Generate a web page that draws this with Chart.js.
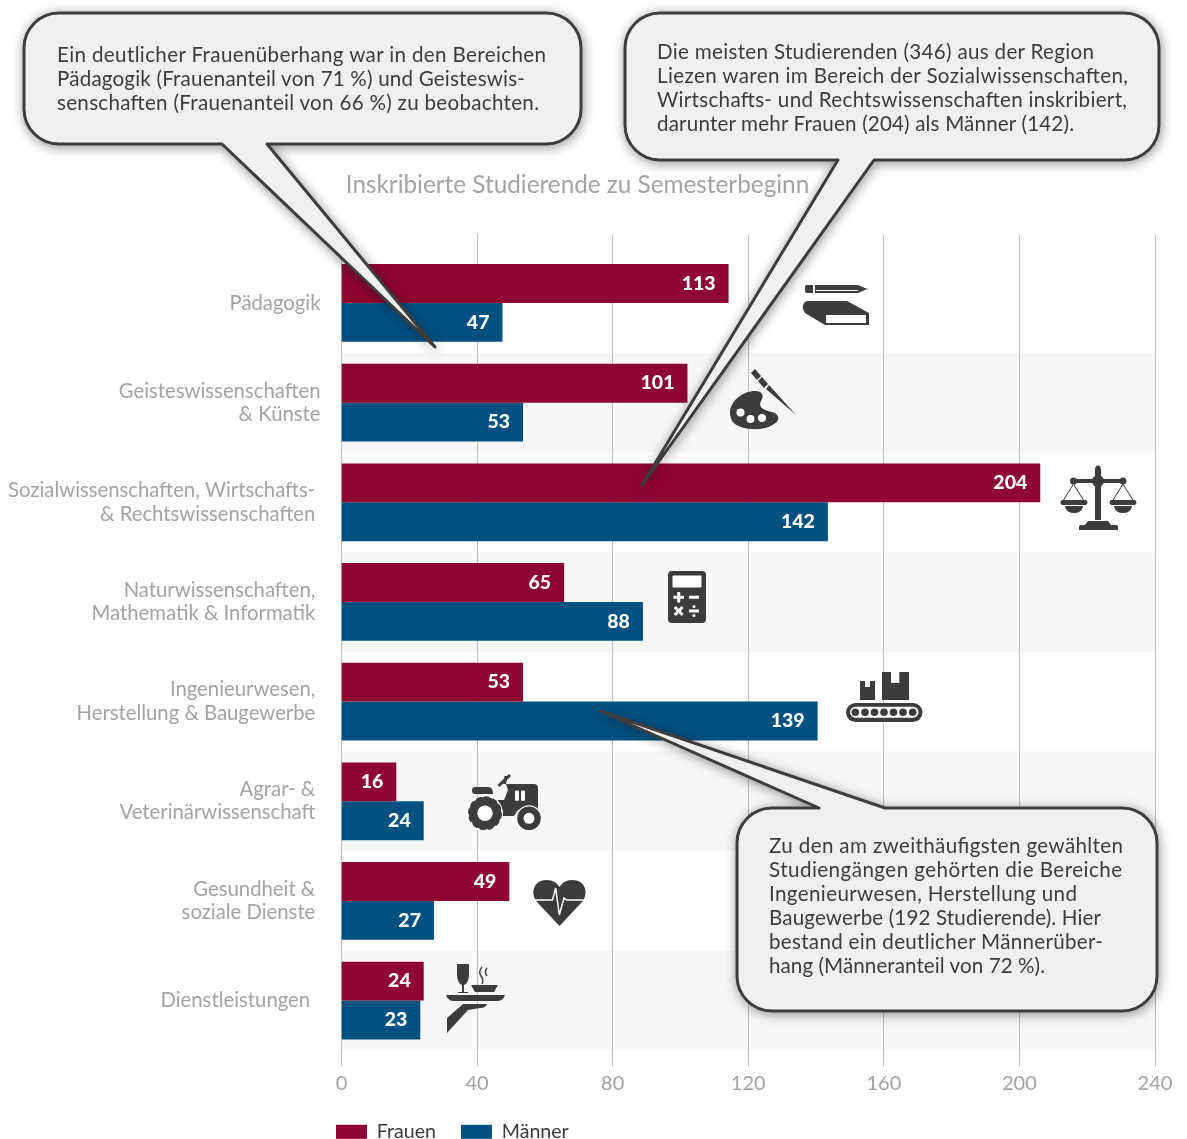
<!DOCTYPE html>
<html>
<head>
<meta charset="utf-8">
<script src="https://cdn.jsdelivr.net/npm/chart.js@4"></script>
<style>
html,body{margin:0;padding:0;background:#fff;overflow:hidden}
#wrap{position:relative;width:1187px;height:1139px;overflow:hidden}
#myChart{position:absolute;left:0;top:0}
#over{position:absolute;left:0;top:0}
.bubble{fill:#f0f0f0;stroke:#3c3c3b;stroke-width:3;stroke-linejoin:round;filter:url(#sh)}
.note{font:20.6px Lato;fill:#3c3c3b}
.ic{fill:#3c3c3b}
.wh{fill:#fff}
.wl{fill:none;stroke:#fff}
.dl{fill:none;stroke:#3c3c3b}
</style>
</head>
<body>
<div id="wrap">
<canvas id="myChart" width="1187" height="1151"></canvas>
<svg id="over" width="1187" height="1139">
<defs><filter id="sh" x="-20%" y="-20%" width="140%" height="140%"><feDropShadow dx="1" dy="2" stdDeviation="6" flood-color="#000" flood-opacity="0.42"/></filter></defs>

<!-- book and pencil -->
<g>
<path class="ic" d="M807 285H813V293H807Q805 293 805 291V287Q805 285 807 285ZM815 285H858L866 288.500L869 289L866 289.500L858 293H815Z"/>
<path class="wl" d="M816 290.500H858" stroke-width="1"/>
<path class="ic" d="M807 301H847L869 313V325H825L805 313Q802 308 803 305Q804 302 807 301Z"/>
<rect class="wh" x="826" y="315" width="40" height="8"/>
</g>
<!-- palette and brush -->
<g>
<path class="ic" d="M730 413C730 400 744 391 755 391C763 391 764 396 761 401C758 407 763 410 772 412C779 414 781 420 774 424C764 431 750 430 741 427C734 425 730 420 730 413Z"/>
<circle class="wh" cx="740.500" cy="412.500" r="4"/><circle class="wh" cx="750.500" cy="419" r="4"/><circle class="wh" cx="762" cy="418" r="4"/>
<path class="ic" d="M755 369L751 373L757 380L761 376ZM762 377L758 381L764 388L768 384ZM769 385L766 389L796 415Z"/>
</g>
<!-- scales -->
<g>
<path class="ic" d="M1095 470Q1095 465.500 1098 465.500Q1101 465.500 1101 470V520H1095ZM1086 479H1110V483H1086Z"/>
<circle class="ic" cx="1098" cy="481" r="6"/><circle class="ic" cx="1073.500" cy="481" r="3.500"/><circle class="ic" cx="1123" cy="481" r="3.500"/>
<path class="ic" d="M1076 479H1090V483H1076Z"/>
<path class="ic" d="M1106 479H1120V483H1106Z"/>
<path class="dl" d="M1073.500 484L1063 501M1073.500 484L1084 501M1123 484L1112.500 501M1123 484L1133.500 501" stroke-width="1"/>
<path class="ic" d="M1062 500H1086Q1089 502.500 1086 505H1062Q1059 502.500 1062 500ZM1065 506H1083Q1082 513 1074 513Q1066 513 1065 506Z"/>
<path class="ic" d="M1111 500H1135Q1138 502.500 1135 505H1111Q1108 502.500 1111 500ZM1114 506H1132Q1131 513 1123 513Q1115 513 1114 506Z"/>
<path class="ic" d="M1088 521H1108L1111 525H1116Q1118 525 1118 527V530H1079V527Q1079 525 1081 525H1085Z"/>
</g>
<!-- calculator -->
<g>
<rect class="ic" x="668" y="571" width="38" height="52" rx="4"/>
<rect class="wh" x="672.500" y="575.500" width="29" height="12" rx="1"/>
<path class="wl" d="M678.700 592V602.500M673.500 597.300H684M689 597.300H699M674.800 607L682.600 615M682.600 607L674.800 615M689 611H699" stroke-width="3"/>
<circle class="wh" cx="694" cy="606.500" r="1.500"/><circle class="wh" cx="694" cy="615.500" r="1.500"/>
</g>
<!-- conveyor -->
<g>
<rect class="ic" x="846" y="703" width="76.500" height="19" rx="9.500"/>
<rect class="wh" x="850" y="706.700" width="68.500" height="11" rx="5.500"/>
<g class="ic"><circle cx="855.300" cy="712.200" r="3.800"/><circle cx="865" cy="712.200" r="3.800"/><circle cx="874.500" cy="712.200" r="3.800"/><circle cx="884" cy="712.200" r="3.800"/><circle cx="893.500" cy="712.200" r="3.800"/><circle cx="903" cy="712.200" r="3.800"/><circle cx="912.700" cy="712.200" r="3.800"/></g>
<path class="ic" d="M860 681H865V687H870V681H875V700H860ZM882 672H891V683H899.300V672H909V700H882Z"/>
</g>
<!-- tractor -->
<g>
<path class="ic" d="M506 784H534Q538 784 538 788V810H518L514 816H497L494 800H504L508 790Z"/>
<path class="ic" d="M475 787H488Q493 787 493 794H475Q472 794 472 790.500Q472 787 475 787Z"/>
<path class="dl" d="M498.500 786L510 775" stroke-width="3"/><path class="dl" d="M506 776L504.500 784" stroke-width="3"/>
<rect class="wh" x="515" y="790.700" width="4" height="10"/><rect class="wh" x="521" y="790.700" width="4" height="10"/>
<circle class="wh" cx="485" cy="813.300" r="18"/>
<circle class="dl" cx="485" cy="813.300" r="12" stroke-width="8.500"/>
<circle class="dl" cx="485" cy="813.300" r="15.500" stroke-width="3" stroke-dasharray="5 3"/>
<circle class="wh" cx="529" cy="818.300" r="13"/>
<circle class="ic" cx="529" cy="818.300" r="11.800"/><circle class="wh" cx="529" cy="818.300" r="5.500"/>
</g>
<!-- heart -->
<g>
<path class="ic" d="M559.500 926L537 902C530 894 533 880 547 880C553 880 557 883 559.500 887C562 883 566 880 572 880C586 880 589 894 582 902Z"/>
<path class="wl" d="M534 900H552.500L555.700 888L559.300 915L564 898L566.500 900H585" stroke-width="1.500"/>
</g>
<!-- service -->
<g>
<path class="ic" d="M457 964H469V974Q469 983 464 985V992H468V993H458V992H462V985Q457 983 457 974Z"/>
<path class="dl" d="M482 967Q478 972 481 976T482 984M487 968Q484 972 487 976" stroke-width="1.400"/>
<path class="ic" d="M471 985H498L494 992H475ZM446 995H505Q503 1001 497 1001H454Q448 1001 446 995Z"/>
<path class="ic" d="M447 1018L463 1004H487Q486 1008 480 1008L468 1010L447 1033Z"/>
</g>

<path class="bubble" d="M59 13H546A35 35 0 0 1 581 48V109A35 35 0 0 1 546 144H267L435 347L222 144H59A35 35 0 0 1 24 109V48A35 35 0 0 1 59 13Z"/>
<text class="note" x="57" y="62" textLength="489">Ein deutlicher Frauenüberhang war in den Bereichen</text>
<text class="note" x="57" y="86" textLength="468">Pädagogik (Frauenanteil von 71 %) und Geisteswis-</text>
<text class="note" x="57" y="110" textLength="482">senschaften (Frauenanteil von 66 %) zu beobachten.</text>

<path class="bubble" d="M660 13H1124A35 35 0 0 1 1159 48V125A35 35 0 0 1 1124 160H874L642 485L838 160H660A35 35 0 0 1 625 125V48A35 35 0 0 1 660 13Z"/>
<text class="note" x="657" y="59" textLength="437">Die meisten Studierenden (346) aus der Region</text>
<text class="note" x="657" y="83" textLength="471">Liezen waren im Bereich der Sozialwissenschaften,</text>
<text class="note" x="657" y="107" textLength="470">Wirtschafts- und Rechtswissenschaften inskribiert,</text>
<text class="note" x="657" y="131" textLength="417">darunter mehr Frauen (204) als Männer (142).</text>

<path class="bubble" d="M772 808H819L600 711L885 808H1122A35 35 0 0 1 1157 843V976A35 35 0 0 1 1122 1011H772A35 35 0 0 1 737 976V843A35 35 0 0 1 772 808Z"/>
<text class="note" x="769" y="853" textLength="354">Zu den am zweithäufigsten gewählten</text>
<text class="note" x="769" y="877" textLength="353">Studiengängen gehörten die Bereiche</text>
<text class="note" x="769" y="901" textLength="308">Ingenieurwesen, Herstellung und</text>
<text class="note" x="769" y="925" textLength="332">Baugewerbe (192 Studierende). Hier</text>
<text class="note" x="769" y="949" textLength="334">bestand ein deutlicher Männerüber-</text>
<text class="note" x="769" y="973" textLength="276">hang (Männeranteil von 72 %).</text>
</svg>
</div>
<script>
var categories = ['Pädagogik', ['Geisteswissenschaften', '& Künste'], ['Sozialwissenschaften, Wirtschafts-', '& Rechtswissenschaften'], ['Naturwissenschaften,', 'Mathematik & Informatik'], ['Ingenieurwesen,', 'Herstellung & Baugewerbe'], ['Agrar- &', 'Veterinärwissenschaft'], ['Gesundheit &', 'soziale Dienste'], 'Dienstleistungen'];
var frauen = [113, 101, 204, 65, 53, 16, 49, 24];
var maenner = [47, 53, 142, 88, 139, 24, 27, 23];
var labelIndent = [0, 0, 1, 1, 1, 1, 1, 2];

var grau = '#a3a3a3';

// stripes behind every second row, grid lines run a bit above the plot
var backdrop = {
    id: 'backdrop',
    beforeDraw: function (chart) {
        var c = chart.ctx, a = chart.chartArea, y = chart.scales.y;
        var h = y.getPixelForValue(1) - y.getPixelForValue(0);
        c.save();
        c.fillStyle = '#f7f7f7';
        for (var i = 1; i < categories.length; i += 2) {
            c.fillRect(a.left, y.getPixelForValue(i) - h / 2, a.right - a.left, h);
        }
        c.strokeStyle = '#bdbdbd';
        c.lineWidth = 1;
        chart.scales.x.ticks.forEach(function (t) {
            var x = Math.round(chart.scales.x.getPixelForValue(t.value) - 0.5) + 0.5;
            c.beginPath();
            c.moveTo(x, 234);
            c.lineTo(x, a.top);
            c.stroke();
        });
        c.restore();
    },
    afterLayout: function (chart) {
        chart.legend.left = 311;
        chart.legend.top = 1097;
    }
};

// value inside the end of every bar
var barValues = {
    id: 'barValues',
    afterDatasetsDraw: function (chart) {
        var c = chart.ctx;
        c.save();
        c.fillStyle = '#fff';
        c.font = '900 19.5px Lato';
        c.textAlign = 'right';
        c.textBaseline = 'middle';
        chart.data.datasets.forEach(function (ds, i) {
            chart.getDatasetMeta(i).data.forEach(function (bar, j) {
                c.fillText(ds.data[j], bar.x - 13, bar.y);
            });
        });
        c.restore();
    }
};

var ctx = document.getElementById('myChart').getContext('2d');
new Chart(ctx, {
    type: 'bar',
    data: {
        labels: categories,
        datasets: [
            {label: 'Frauen', data: frauen, backgroundColor: '#8f0532', xAxisID: 'xBars'},
            {label: 'Männer', data: maenner, backgroundColor: '#005180', xAxisID: 'xBars'}
        ]
    },
    plugins: [backdrop, barValues],
    options: {
        indexAxis: 'y',
        responsive: false,
        animation: false,
        categoryPercentage: 0.78,
        barPercentage: 1,
        layout: {padding: {right: 32}},
        plugins: {
            title: {display: true, text: 'Inskribierte Studierende zu Semesterbeginn', color: grau, font: {family: 'Lato', size: 24.3, weight: 'normal'}, padding: {top: 171, bottom: 53}},
            legend: {position: 'bottom', align: 'start', labels: {boxWidth: 31, boxHeight: 14, padding: 25, color: '#3c3c3b', font: {family: 'Lato', size: 19.6}}},
            tooltip: {enabled: false}
        },
        scales: {
            x: {min: 0, max: 240, position: 'bottom', ticks: {stepSize: 40, color: grau, padding: 5, maxRotation: 0, font: {family: 'Lato', size: 20}}, grid: {color: '#bdbdbd', tickLength: 16}, border: {display: false}, afterFit: function (s) { s.height = 46; }},
            xBars: {display: false, min: 0, max: 237.5, position: 'bottom'},
            y: {
                ticks: {
                    color: grau,
                    padding: 21,
                    font: {family: 'Lato', size: 20.3, lineHeight: 1.15},
                    callback: function (v, i) {
                        var pad = '\u00a0'.repeat(labelIndent[i]);
                        var l = categories[i];
                        return Array.isArray(l) ? l.map(function (s) { return s + pad; }) : l + pad;
                    }
                },
                grid: {display: false, drawTicks: false},
                border: {display: false},
                afterFit: function (s) { s.width = 341.5; }
            }
        }
    }
});
</script>
</body>
</html>
